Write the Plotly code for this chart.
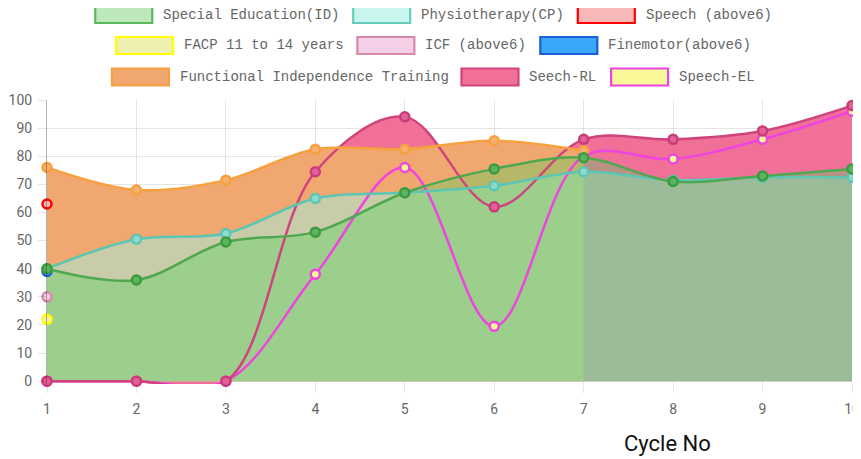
import plotly.graph_objects as go

# ---------------- data ----------------
cycles = [1, 2, 3, 4, 5, 6, 7, 8, 9, 10]
special_ed = [40, 36, 49.5, 53, 67, 75.5, 79.5, 71, 73, 75.5]
physio = [40, 50.5, 52.5, 65, 67, 69.5, 74.5, 71.5, 72.5, 72.5]
speech_above6 = [63]
facp = [22]
icf = [30]
finemotor = [39]
fit = [76, 68, 71.5, 82.5, 82.5, 85.5, 82]
seech_rl = [0, 0, 0, 74.5, 94, 62, 86, 86, 89, 98]
speech_el = [0, 0, 0, 38, 76, 19.5, 80, 79, 86, 96]

series_names = ["Special Education(ID)", "Physiotherapy(CP)", "Speech (above6)",
                "FACP 11 to 14 years", "ICF (above6)", "Finemotor(above6)",
                "Functional Independence Training", "Seech-RL", "Speech-EL"]
series_values = [special_ed, physio, speech_above6, facp, icf, finemotor,
                 fit, seech_rl, speech_el]

# ---------------- styles ----------------
styles = {
    "Special Education(ID)": dict(line="#4fa84f", mfill="#5cb55c", mline="#3c9a40",
                                  area="rgba(74,213,88,0.35)", lfill="#bde8bc", lborder="#5cb85c"),
    "Physiotherapy(CP)": dict(line="#5cc6b4", mfill="#8fd8cc", mline="#5cc6b4",
                              area="rgba(160,240,224,0.5)", lfill="#c8f5ee", lborder="#66ccbb"),
    "Speech (above6)": dict(line="#ff0000", mfill="#f8b8b8", mline="#ff0000",
                            area=None, lfill="#f8b8b8", lborder="#ff0000"),
    "FACP 11 to 14 years": dict(line="#ffff00", mfill="#f0f0b0", mline="#ffff00",
                                area=None, lfill="#eef0b0", lborder="#ffff00"),
    "ICF (above6)": dict(line="#d888a8", mfill="#f4d0e8", mline="#d888a8",
                         area=None, lfill="#f4d0e8", lborder="#d888a8"),
    "Finemotor(above6)": dict(line="#1a5fd8", mfill="#3aa8f8", mline="#1a5fd8",
                              area=None, lfill="#3aa8f8", lborder="#1a5fd8"),
    "Functional Independence Training": dict(line="#f7a040", mfill="#f5b070", mline="#f7a040",
                                             area="#f0a870", lfill="#f0a870", lborder="#f7a040"),
    "Seech-RL": dict(line="#d0447e", mfill="#e4609a", mline="#c83c78",
                     area="#f07098", lfill="#f07098", lborder="#d0447e"),
    "Speech-EL": dict(line="#ee44e0", mfill="#f8f898", mline="#ee44e0",
                      area="rgba(248,248,140,0.4)", lfill="#f8f898", lborder="#ee44e0"),
}

# page has an 8px body margin: the figure starts at (8, 8) in the window
OFF = 8
W, H = 861 - OFF, 459 - OFF
L, R, T, B = 47 - OFF, 9, 100 - OFF, 75
PW, PH = W - L - R, H - T - B


def px_x(p):  # window pixel -> paper x
    return (p - OFF - L) / PW


def px_y(p):  # window pixel -> paper y
    return (H - B - (p - OFF)) / PH


fig = go.Figure()

# fills first (bottom -> top, as Chart.js draws last dataset underneath)
for name, vals in reversed(list(zip(series_names, series_values))):
    st = styles[name]
    if st["area"] is None or len(vals) < 2:
        continue
    fig.add_trace(go.Scatter(
        x=cycles[:len(vals)], y=vals, mode="lines", fill="tozeroy",
        fillcolor=st["area"], line=dict(width=0, shape="spline", smoothing=1),
        hoverinfo="skip", showlegend=False))

# lines + points
for name, vals in reversed(list(zip(series_names, series_values))):
    st = styles[name]
    xs = cycles[:len(vals)]
    if len(vals) > 1:
        fig.add_trace(go.Scatter(
            x=xs, y=vals, mode="lines", name=name,
            line=dict(color=st["line"], width=2.5, shape="spline", smoothing=1),
            cliponaxis=True, showlegend=False, hoverinfo="skip"))
    fig.add_trace(go.Scatter(
        x=xs, y=vals, mode="markers", name=name,
        marker=dict(size=9, color=st["mfill"], line=dict(color=st["mline"], width=2.5)),
        cliponaxis=False, showlegend=False))

# ---------------- custom legend (Chart.js style boxes) ----------------
legend_rows = [series_names[0:3], series_names[3:6], series_names[6:9]]
row_centers_px = [14.5, 45.5, 77]
char_w = 8.33
box_w, box_h, box_gap, item_gap = 59, 19, 8, 16
center_px = 431.5

shapes = []
annotations = []
for row, cy in zip(legend_rows, row_centers_px):
    widths = [box_w + box_gap + len(n) * char_w for n in row]
    total = sum(widths) + item_gap * (len(row) - 1)
    x = center_px - total / 2
    for n, w in zip(row, widths):
        st = styles[n]
        shapes.append(dict(type="rect", xref="paper", yref="paper",
                           x0=px_x(x + 1), x1=px_x(x + box_w - 1),
                           y0=px_y(cy + box_h / 2 - 1), y1=px_y(cy - box_h / 2 + 1),
                           fillcolor=st["lfill"], line=dict(color=st["lborder"], width=2.2),
                           layer="above"))
        annotations.append(dict(text=n, xref="paper", yref="paper",
                                x=px_x(x + box_w + box_gap), y=px_y(cy),
                                xanchor="left", yanchor="middle", showarrow=False,
                                font=dict(family="Liberation Mono", size=14, color="#666")))
        x += w + item_gap

annotations.append(dict(text="Cycle No", xref="paper", yref="paper",
                        x=px_x(667), y=px_y(443), xanchor="center", yanchor="middle",
                        showarrow=False, font=dict(family="Roboto", size=22, color="#111")))

fig.update_layout(
    width=W, height=H,
    margin=dict(l=L, r=R, t=T, b=B, pad=0, autoexpand=False),
    paper_bgcolor="white", plot_bgcolor="white",
    showlegend=False,
    shapes=shapes, annotations=annotations,
    xaxis=dict(range=[1, 10], tickvals=cycles, showgrid=True, automargin=False,
               gridcolor="rgba(0,0,0,0.1)", gridwidth=1, zeroline=False,
               ticks="outside", ticklen=8, tickcolor="rgba(0,0,0,0.1)",
               ticklabelstandoff=4,
               tickfont=dict(family="Roboto", size=14, color="#666"),
               showline=False),
    yaxis=dict(range=[-1, 100], tickvals=list(range(0, 101, 10)), showgrid=True,
               automargin=False,
               gridcolor="rgba(0,0,0,0.1)", gridwidth=1, zeroline=False,
               ticks="outside", ticklen=8, tickcolor="rgba(0,0,0,0.1)",
               ticklabelstandoff=3,
               tickfont=dict(family="Roboto", size=14, color="#666"),
               showline=True, linecolor="rgba(0,0,0,0.3)", linewidth=1),
)

fig.write_html("out.html")
